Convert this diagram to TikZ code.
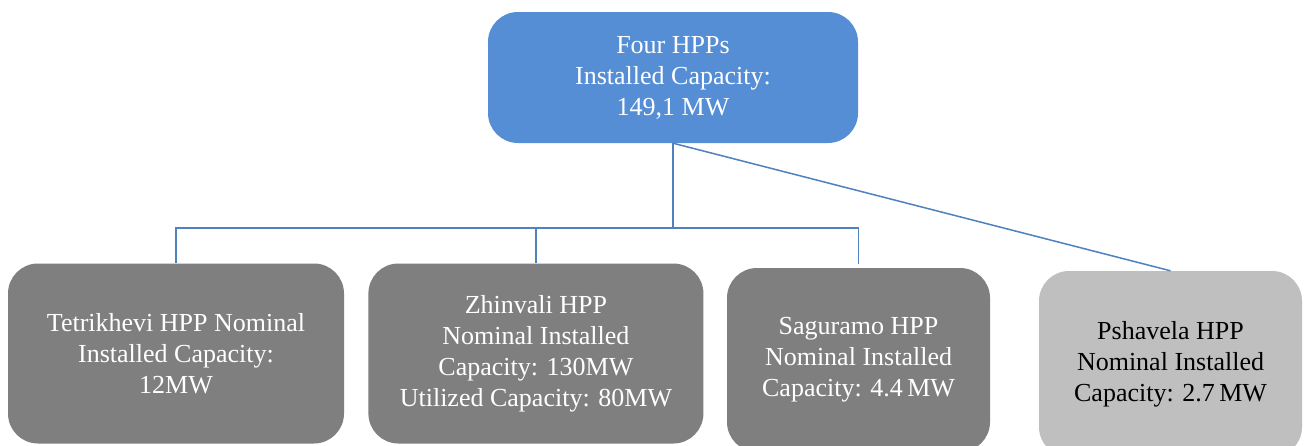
\documentclass[tikz,border=0pt]{standalone}
\usepackage{fontspec}
\setmainfont{Liberation Serif}
\usetikzlibrary{positioning}
\definecolor{topblue}{HTML}{558ED5}
\definecolor{hppgray}{HTML}{7F7F7F}
\definecolor{hpplight}{HTML}{BFBFBF}
\definecolor{linkblue}{HTML}{4F81BD}

\begin{document}
\begin{tikzpicture}[x=1pt,y=-1pt,
  box/.style={rounded corners=30pt,text=white,align=center,inner sep=0pt,
    font=\fontsize{26}{31}\selectfont},
  top box/.style={box,fill=topblue,minimum width=370pt,minimum height=131pt},
  hpp box/.style={box,fill=hppgray,minimum height=180pt},
  link/.style={draw=linkblue,line width=1.5pt}]
  \clip (0,0) rectangle (1306,445);
  \fill[white] (0,0) rectangle (1306,445);
  \node[top box] (top) at (673,77.5) {Four HPPs\\Installed Capacity:\\149,1 MW};
  \node[hpp box, minimum width=336pt] (tetri) at (176,353.5)
    {Tetrikhevi HPP Nominal\\Installed Capacity:\\12MW};
  \node[hpp box, minimum width=335pt] (zhinv) [right=24pt of tetri]
    {Zhinvali HPP\\Nominal Installed\\Capacity: 130MW\\Utilized Capacity: 80MW};
  \node[hpp box, minimum width=263pt, minimum height=184pt] (sagur) at (858.5,360)
    {Saguramo HPP\\Nominal Installed\\Capacity: 4.4\,MW};
  \node[hpp box, fill=hpplight, text=black, minimum width=263pt, minimum height=186pt]
    (pshav) at (1170.5,364) {Pshavela HPP\\Nominal Installed\\Capacity: 2.7\,MW};
  % connectors
  \coordinate (bus) at (673,228);
  \draw[link] (top.south) -- (bus);
  \draw[link, shorten >=4pt] (tetri.north) |- (bus) -| (sagur.north);
  \draw[link] (zhinv.north) -- (zhinv.north |- bus);
  \draw[link] (top.south) -- (pshav.north);
\end{tikzpicture}
\end{document}
